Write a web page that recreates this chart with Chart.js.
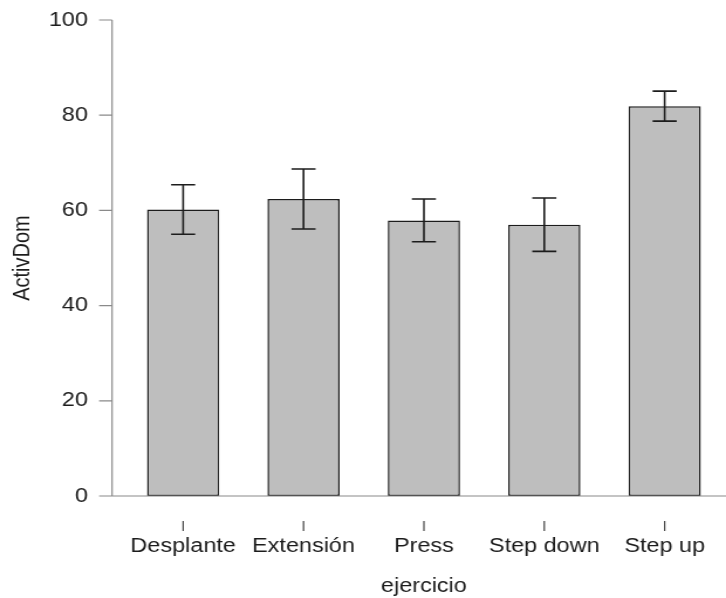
<!DOCTYPE html>
<html>
<head>
<meta charset="utf-8">
<script src="https://cdn.jsdelivr.net/npm/chart.js@4.4.1/dist/chart.umd.min.js"></script>
<style>
    html, body { margin: 0; padding: 0; background: #fff; overflow: hidden; }
    /* the reference picture is stretched sideways, so the canvas is too */
    #chart { display: block; transform: scaleX(1.171); transform-origin: 0 0; }
</style>
</head>
<body>
<canvas id="chart" width="620" height="598"></canvas>
<script>
// Data
const ejercicios = ["Desplante", "Extensión", "Press", "Step down", "Step up"];
const activDom = [60.2, 62.4, 57.9, 57.0, 81.9];
const errores = [5.2, 6.3, 4.5, 5.6, 3.15];
const yTicks = [0, 20, 40, 60, 80, 100];

const axisGray = '#8a8a8a';
const inkColor = '#1c1c1c';

// Axis lines and tick marks drawn like an R base plot
const rAxesPlugin = {
    id: 'rAxes',
    afterDatasetsDraw(chart) {
        const ctx = chart.ctx;
        const y = chart.scales.y;
        const meta = chart.getDatasetMeta(0);

        // error bars
        ctx.save();
        ctx.strokeStyle = inkColor;
        ctx.lineWidth = 1.6;
        meta.data.forEach((bar, i) => {
            const half = bar.width / 6;
            const top = y.getPixelForValue(activDom[i] + errores[i]);
            const bottom = y.getPixelForValue(activDom[i] - errores[i]);
            ctx.beginPath();
            ctx.moveTo(bar.x, top);
            ctx.lineTo(bar.x, bottom);
            ctx.moveTo(bar.x - half, top);
            ctx.lineTo(bar.x + half, top);
            ctx.moveTo(bar.x - half, bottom);
            ctx.lineTo(bar.x + half, bottom);
            ctx.stroke();
        });
        ctx.restore();
    },
    afterDraw(chart) {
        const ctx = chart.ctx;
        const area = chart.chartArea;
        const x = chart.scales.x;
        const y = chart.scales.y;
        const axisX = area.left - 9.3;
        const tickLen = 11.1;
        const y0 = y.getPixelForValue(0);

        ctx.save();
        ctx.strokeStyle = axisGray;
        ctx.lineWidth = 1.2;
        ctx.beginPath();
        ctx.moveTo(axisX, y.getPixelForValue(yTicks[yTicks.length - 1]));
        ctx.lineTo(axisX, y0);
        yTicks.forEach(v => {
            const py = y.getPixelForValue(v);
            ctx.moveTo(axisX - tickLen, py);
            ctx.lineTo(axisX, py);
        });
        ctx.moveTo(axisX, y0);
        ctx.lineTo(chart.width, y0);
        ctx.stroke();

        // small ticks under each bar
        ctx.strokeStyle = '#444';
        ctx.beginPath();
        ejercicios.forEach((e, i) => {
            const px = x.getPixelForValue(i);
            ctx.moveTo(px, y0 + 25);
            ctx.lineTo(px, y0 + 35);
        });
        ctx.stroke();
        ctx.restore();
    }
};

Chart.defaults.font.family = "'Liberation Sans', Arial, sans-serif";
Chart.defaults.font.size = 20;
Chart.defaults.color = inkColor;

new Chart(document.getElementById('chart'), {
    type: 'bar',
    data: {
        labels: ejercicios,
        datasets: [{
            label: 'ActivDom',
            data: activDom,
            backgroundColor: '#bebebe',
            borderColor: inkColor,
            borderWidth: 1.5,
            borderSkipped: false,
            barPercentage: 0.6,
            categoryPercentage: 1.0
        }]
    },
    options: {
        responsive: false,
        animation: false,
        layout: { padding: { top: 20, right: 1, bottom: 0, left: 0 } },
        plugins: {
            legend: { display: false },
            tooltip: { enabled: false }
        },
        scales: {
            x: {
                grid: { display: false, drawTicks: false, tickLength: 0 },
                border: { display: false },
                ticks: { padding: 38, maxRotation: 0, autoSkip: false },
                title: {
                    display: true,
                    text: 'ejercicio',
                    padding: { top: 0, bottom: 0 }
                },
                afterFit: scale => {
                    scale.height = 102;
                    scale.paddingLeft = 0;
                    scale.paddingRight = 0;
                }
            },
            y: {
                min: 0,
                max: 100,
                grid: { display: false, drawTicks: false, tickLength: 0 },
                border: { display: false },
                ticks: { stepSize: 20, padding: 30 },
                title: {
                    display: true,
                    text: 'ActivDom',
                    padding: { top: 7, bottom: 0 }
                },
                afterFit: scale => {
                    scale.width = 105;
                    scale.paddingTop = 0;
                    scale.paddingBottom = 0;
                }
            }
        }
    },
    plugins: [rAxesPlugin]
});
</script>
</body>
</html>
